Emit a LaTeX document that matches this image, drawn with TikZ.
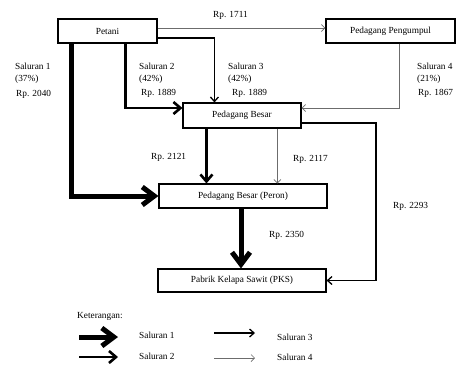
\documentclass[tikz,border=0pt]{standalone}
\usepackage{fontspec}
\setmainfont{Liberation Serif}
\usepackage{tikz}
\usetikzlibrary{arrows.meta}

\begin{document}
\begin{tikzpicture}[x=1pt, y=-1pt, font=\fontsize{9.3}{11}\selectfont,
    kotak/.style={draw, line width=1.1pt, inner sep=0pt, fill=white},
    teks/.style={anchor=west, inner sep=0pt},
    sal1/.style={line width=5pt, -{Straight Barb[length=12pt, width=18pt]}},
    sal2/.style={line width=2.6pt, -{Straight Barb[length=7pt, width=12pt]}},
    sal3/.style={line width=1.3pt, -{Straight Barb[length=4.5pt, width=8pt]}},
    sal4/.style={line width=0.7pt, gray!85!black, -{Straight Barb[length=3.5pt, width=7pt]}}]
    \useasboundingbox (0,0) rectangle (457,365);

    % Kotak
    \node[kotak, minimum width=99pt, minimum height=24pt] (petani) at (107.5,31) {Petani};

    \node[kotak, minimum width=129pt, minimum height=24pt] (pengumpul) at (390.5,31) {Pedagang Pengumpul};

    \node[kotak, minimum width=118pt, minimum height=25pt] (besar) at (242,115.5) {Pedagang Besar};

    \node[kotak, minimum width=168pt, minimum height=24pt] (peron) at (243,196) {Pedagang Besar (Peron)};

    \node[kotak, minimum width=168pt, minimum height=23pt] (pks) at (242,280.5) {Pabrik Kelapa Sawit (PKS)};

    \coordinate (sudut) at (376,0);



    % Saluran 1
    \draw[sal1] ([xshift=14pt]petani.south west) |- (peron.west);

    \draw[sal1] ([xshift=-2pt]peron.south) -- ([xshift=-2pt]peron.south |- pks.north);



    % Saluran 2
    \draw[sal2] ([xshift=68pt]petani.south west) |- ([yshift=7.5pt]besar.west);

    \draw[sal2] ([xshift=24pt]besar.south west) coordinate (b1) -- (b1 |- peron.north);



    % Saluran 3
    \draw[sal3] ([yshift=-7pt]petani.east) -| ([xshift=32pt]besar.north west);

    \draw[sal3] ([yshift=-7.5pt]besar.east) -- ([yshift=-7.5pt]besar.east -| sudut) |- (pks.east);



    % Saluran 4
    \draw[sal4] ([yshift=3pt]petani.east) -- ([yshift=3pt]pengumpul.west);

    \draw[sal4] ([xshift=74pt]pengumpul.south west) |- ([yshift=7.5pt]besar.east);

    \draw[sal4] ([xshift=95pt]besar.south west) coordinate (b2) -- (b2 |- peron.north);



    % Label
    \node[teks] (s1a) at (15,66) {Saluran 1};
    \node[teks] (s1b) at (15,79) {(37\%)};
    \node[teks] (s1c) at (16,94) {Rp. 2040};

    \node[teks] (s2a) at (139,66) {Saluran 2};
    \node[teks] (s2b) at (139,79) {(42\%)};
    \node[teks] (s2c) at (141,93) {Rp. 1889};

    \node[teks] (s3a) at (228,66) {Saluran 3};
    \node[teks] (s3b) at (228,79) {(42\%)};
    \node[teks] (s3c) at (232,93) {Rp. 1889};

    \node[teks] (s4a) at (417,66) {Saluran 4};
    \node[teks] (s4b) at (417,79) {(21\%)};
    \node[teks] (s4c) at (418,93) {Rp. 1867};

    \node[teks] (h1711) at (213,15) {Rp. 1711};
    \node[teks] (h2121) at (151,157) {Rp. 2121};
    \node[teks] (h2117) at (293,159) {Rp. 2117};
    \node[teks] (h2293) at (393,206) {Rp. 2293};
    \node[teks] (h2350) at (269,235) {Rp. 2350};



    % Keterangan
    \node[teks] (ket) at (77,316) {Keterangan:};

    \coordinate (k1a) at (79,337);
    \coordinate (k1b) at (118,337);
    \coordinate (k2a) at (79,357);
    \coordinate (k2b) at (118,357);
    \coordinate (k3a) at (214,333);
    \coordinate (k3b) at (255,333);
    \coordinate (k4a) at (214,358);
    \coordinate (k4b) at (255,358);

    \draw[sal1] (k1a) -- (k1b);
    \draw[sal2] (k2a) -- (k2b);
    \draw[sal3] (k3a) -- (k3b);
    \draw[sal4] (k4a) -- (k4b);

    \node[teks] (l1) at (139,335) {Saluran 1};
    \node[teks] (l2) at (139,356) {Saluran 2};
    \node[teks] (l3) at (277,337) {Saluran 3};
    \node[teks] (l4) at (277,357) {Saluran 4};
  \end{tikzpicture}
\end{document}
